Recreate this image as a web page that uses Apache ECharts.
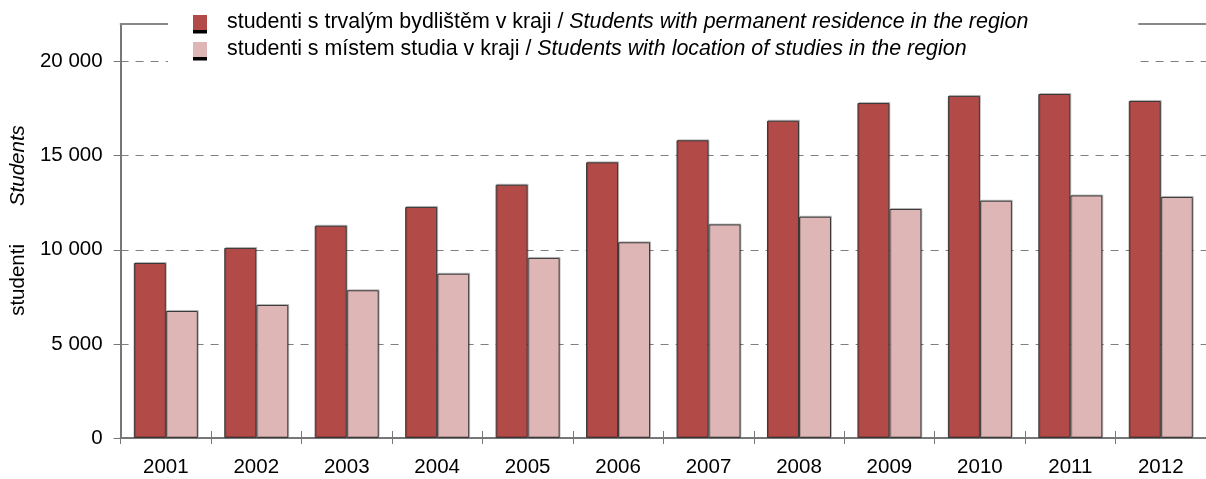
<!DOCTYPE html>
<html>
<head>
<meta charset="utf-8">
<script src="https://cdn.jsdelivr.net/npm/echarts@6/dist/echarts.min.js"></script>
<style>
html, body { margin: 0; padding: 0; background: #fff; }
#chart { width: 1206px; height: 479px; }
</style>
</head>
<body>
<div id="chart"></div>
<script>
var years = ['2001', '2002', '2003', '2004', '2005', '2006', '2007', '2008', '2009', '2010', '2011', '2012'];
var residenceName = 'studenti s trvalým bydlištěm v kraji / Students with permanent residence in the region';
var studiesName = 'studenti s místem studia v kraji / Students with location of studies in the region';
var residence = [9300, 10100, 11280, 12280, 13460, 14650, 15820, 16860, 17800, 18180, 18280, 17910];
var studies = [6750, 7070, 7850, 8730, 9570, 10400, 11350, 11760, 12170, 12610, 12890, 12810];

var fontName = "'Liberation Sans', Arial, sans-serif";
var axisColor = '#777777';

var chart = echarts.init(document.getElementById('chart'));

function thousands(v){
	return String(v).replace(/\B(?=(\d{3})+(?!\d))/g, ' ');
}

function barStyle(color){
	return {
		color : color,
		borderColor : '#383838',
		borderWidth : 1,
		shadowColor : 'rgba(0, 0, 0, 0.2)',
		shadowBlur : 0,
		shadowOffsetX : 1,
		shadowOffsetY : -1
	};
}

var option = {
	animation : false,
	textStyle : { fontFamily : fontName, color : '#000' },
	legend : {
		orient : 'vertical',
		left : 168,
		top : 0,
		padding : [10.5, 110, 8, 25],
		backgroundColor : '#ffffff',
		itemWidth : 14,
		itemHeight : 15,
		itemGap : 3,
		icon : 'rect',
		itemStyle : {
			borderWidth : 0,
			shadowColor : '#000000',
			shadowBlur : 0,
			shadowOffsetX : 0,
			shadowOffsetY : 3.5
		},
		data : [residenceName, studiesName],
		formatter : function(name){
			var parts = name.split(' / ');
			return '{n|' + parts[0] + ' / }{i|' + parts[1] + '}';
		},
		textStyle : {
			fontSize : 21.4,
			lineHeight : 24,
			rich : {
				n : { fontSize : 21.4, fontFamily : fontName, color : '#000', padding : [0, 0, 0, 15], lineHeight : 24 },
				i : { fontSize : 21.4, fontFamily : fontName, color : '#000', fontStyle : 'italic', lineHeight : 24 }
			}
		}
	},
	grid : {
		left : 120,
		right : -5,
		top : 24,
		bottom : 41
	},
	xAxis : [
		{
			type : 'category',
			data : years,
			position : 'bottom',
			axisLine : { lineStyle : { color : axisColor, width : 2 } },
			axisTick : { show : true, length : 6, lineStyle : { color : axisColor, width : 1 } },
			axisLabel : { fontSize : 20.5, color : '#000', margin : 19 },
			splitLine : { show : false }
		},
		{
			type : 'category',
			data : years,
			position : 'bottom',
			axisLine : { show : false },
			axisTick : { show : true, inside : true, length : 7, lineStyle : { color : axisColor, width : 1 } },
			axisLabel : { show : false },
			splitLine : { show : false }
		},
		{
			type : 'category',
			data : years,
			position : 'top',
			axisLine : { lineStyle : { color : '#888888', width : 2 } },
			axisTick : { show : false },
			axisLabel : { show : false },
			splitLine : { show : false }
		}
	],
	yAxis : {
		type : 'value',
		min : 0,
		max : 22000,
		interval : 5000,
		name : '{g1|}{a|studenti}{g|}{b|Students}',
		nameLocation : 'middle',
		nameRotate : 90,
		nameGap : 88,
		nameTextStyle : {
			rich : {
				g1 : { width : 21 },
				a : { fontSize : 20.5, fontFamily : fontName, color : '#000' },
				g : { width : 38 },
				b : { fontSize : 20.5, fontFamily : fontName, color : '#000', fontStyle : 'italic' }
			}
		},
		axisLine : { show : true, lineStyle : { color : axisColor, width : 2 } },
		axisTick : { show : true, length : 7, lineStyle : { color : axisColor, width : 1 } },
		axisLabel : {
			fontSize : 20.5,
			color : '#000',
			margin : 18,
			showMaxLabel : false,
			formatter : function(v){ return v > 20000 ? '' : thousands(v); }
		},
		splitLine : {
			show : true,
			lineStyle : { color : '#808080', width : 1, type : [8, 7] }
		}
	},
	series : [
		{
			name : residenceName,
			type : 'bar',
			barWidth : 32,
			barGap : '0%',
			data : residence,
			itemStyle : barStyle('#b24a48')
		},
		{
			name : studiesName,
			type : 'bar',
			barWidth : 32,
			barGap : '0%',
			data : studies,
			itemStyle : barStyle('#deb6b6')
		}
	]
};
chart.setOption(option);
</script>
</body>
</html>
